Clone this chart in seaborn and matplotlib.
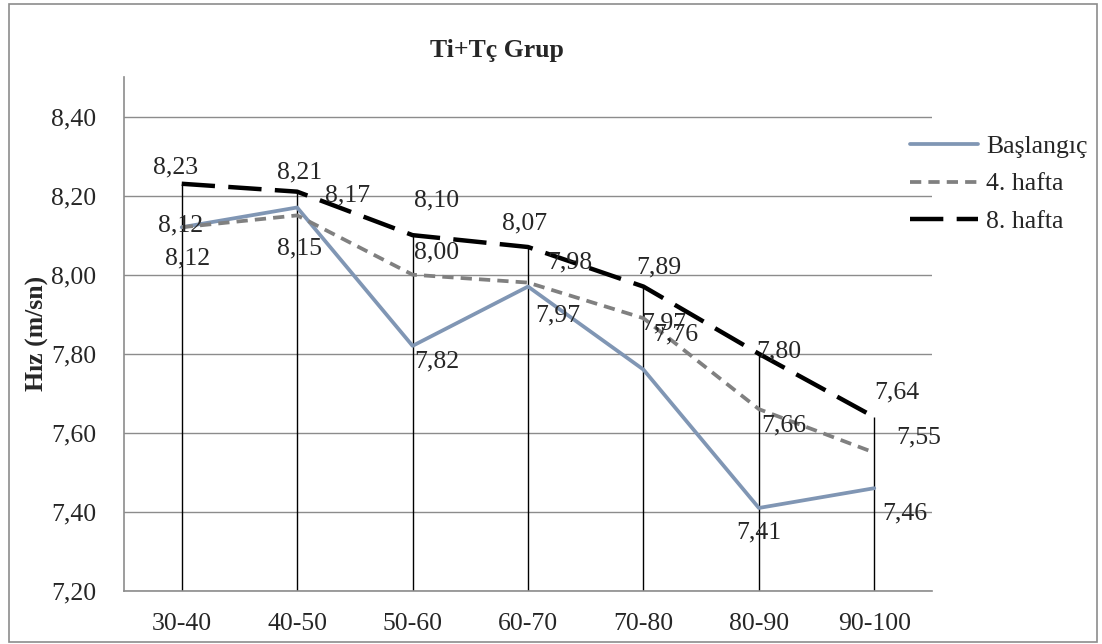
import matplotlib
matplotlib.use("Agg")
import matplotlib.pyplot as plt
import matplotlib.patches as mpatches
import seaborn as sns
import pandas as pd

# Veriler
kategoriler = ["30-40", "40-50", "50-60", "60-70", "70-80", "80-90", "90-100"]
baslangic = [8.12, 8.17, 7.82, 7.97, 7.76, 7.41, 7.46]
hafta4 = [8.12, 8.15, 8.00, 7.98, 7.89, 7.66, 7.55]
hafta8 = [8.23, 8.21, 8.10, 8.07, 7.97, 7.80, 7.64]
y_ticks = [7.20, 7.40, 7.60, 7.80, 8.00, 8.20, 8.40]

seriler = {"Başlangıç": baslangic, "4. hafta": hafta4, "8. hafta": hafta8}

# Etiket kaydırmaları (piksel)
etiket_kaydirma = {
    "Başlangıç": [(-1, 2), (50, 12), (24, -16), (30, -29), (32, 35), (0, -24), (31, -25)],
    "4. hafta": [(6, -31), (2, -33), (24, 22), (42, 20), (15, 51), (25, -16), (44, 15)],
    "8. hafta": [(-6, 16), (2, 19), (24, 35), (-3, 24), (20, -37), (20, 2), (23, 25)],
}

stiller = {
    "Başlangıç": dict(color="#8096B4", lw=2.7, dashes=None),
    "4. hafta": dict(color="#808080", lw=2.7, dashes=(3.0, 1.9)),
    "8. hafta": dict(color="#000000", lw=3.2, dashes=(7.5, 3.0)),
}

sns.set_style("white")
plt.rcParams["font.family"] = ["Liberation Serif", "DejaVu Serif"]
FS = 18.5

fig = plt.figure(figsize=(11.02, 6.44), dpi=100)
ax = fig.add_axes([124 / 1102, 1 - 591 / 644, 808 / 1102, 514 / 644])

x = list(range(len(kategoriler)))

# Dikey düşüş çizgileri
ax.vlines(x, y_ticks[0], hafta8, color="black", lw=1.0, zorder=2)

for ad, degerler in seriler.items():
    st = stiller[ad]
    df = pd.DataFrame({"x": x, "y": degerler})
    line_kw = dict(color=st["color"], lw=st["lw"], label=ad, zorder=3)
    sns.lineplot(data=df, x="x", y="y", ax=ax, **line_kw)
    ln = ax.lines[-1]
    if st["dashes"] is not None:
        ln.set_dashes(st["dashes"])
        ln.set_dash_capstyle("butt")

for ad, degerler in seriler.items():
    for i, v in enumerate(degerler):
        dx, dy = etiket_kaydirma[ad][i]
        ax.annotate(f"{v:.2f}".replace(".", ","), (i, v), xytext=(dx, dy),
                    textcoords="offset pixels", ha="center", va="center",
                    fontsize=FS, zorder=4)

ax.set_xlim(-0.5, len(kategoriler) - 0.5)
ax.set_ylim(7.2, 8.5)
ax.set_yticks(y_ticks)
ax.set_yticklabels([f"{t:.2f}".replace(".", ",") for t in y_ticks], fontsize=FS)
ax.set_xticks(x)
ax.set_xticklabels(kategoriler, fontsize=FS)
ax.grid(axis="y", color="#8C8C8C", lw=1.0)
ax.grid(axis="x", visible=False)
ax.set_axisbelow(True)
ax.tick_params(axis="y", length=8, width=1.0, color="#8C8C8C", pad=12)
ax.tick_params(axis="x", length=0, pad=16)
for s in ["top", "right"]:
    ax.spines[s].set_visible(False)
for s in ["left", "bottom"]:
    ax.spines[s].set_color("#8C8C8C")
    ax.spines[s].set_linewidth(1.2)

ax.set_xlabel("")
ax.set_ylabel("Hız (m/sn)", fontsize=FS, fontweight="bold")
ax.yaxis.set_label_coords(-75 / 808, (591 - 333) / 514)

fig.text(497 / 1102, 1 - 50 / 644, "Ti+Tç Grup", ha="center", va="center",
         fontsize=FS, fontweight="bold")

leg = ax.legend(loc="center left", bbox_to_anchor=(910 / 1102, 1 - 184 / 644),
                bbox_transform=fig.transFigure, frameon=False, fontsize=FS,
                handlelength=2.65, handletextpad=0.3, labelspacing=0.55,
                borderpad=0, borderaxespad=0)

# Çerçeve
fig.patches.append(mpatches.Rectangle((9 / 1102, 1 - 642 / 644), 1088 / 1102, 638 / 644,
                                      transform=fig.transFigure, fill=False,
                                      edgecolor="#8C8C8C", lw=1.2))

fig.savefig("out.png", dpi=100)
